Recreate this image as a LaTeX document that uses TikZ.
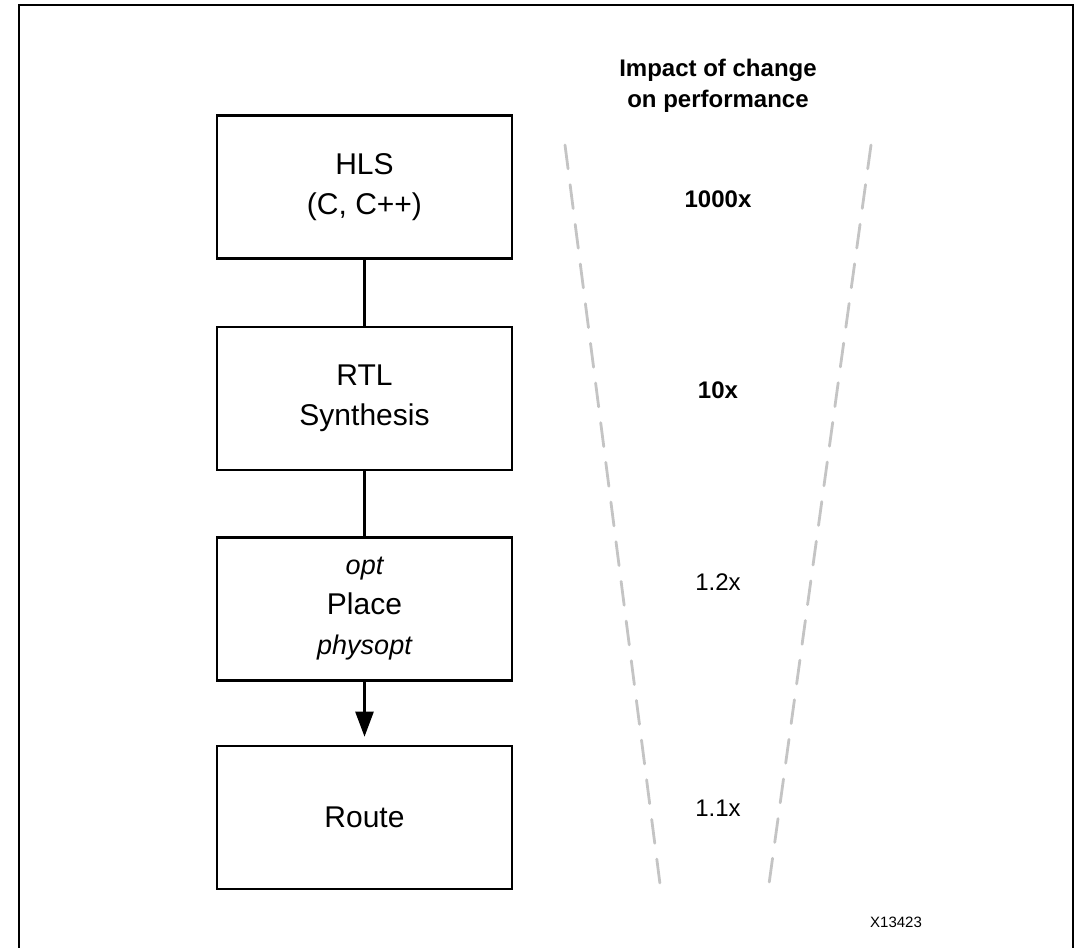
\documentclass[tikz,border=0pt]{standalone}
\usepackage{fontspec}
\setmainfont{Liberation Sans}
\usetikzlibrary{arrows.meta}
\definecolor{dashgray}{RGB}{196,196,196}
\tikzset{
  flowbox/.style={draw=black, line width=2.6pt, minimum width=295pt, minimum height=143pt,
    inner sep=0pt, align=center, font=\fontsize{30}{40}\selectfont},
  link/.style={draw=black, line width=2.4pt},
  funnel/.style={draw=dashgray, line width=2.8pt, line cap=round, dash pattern=on 24pt off 16pt},
  gain/.style={anchor=base, font=\fontsize{24}{30}\selectfont},
  gainbold/.style={gain, font=\fontsize{24}{30}\selectfont\bfseries},
}
\begin{document}
\begin{tikzpicture}[x=1pt, y=-1pt]
  \useasboundingbox (0,0) rectangle (1078,947);
  \clip (0,0) rectangle (1078,947);
  % outer frame, open at the bottom edge of the page
  \draw[black, line width=2.4pt] (19,960) -- (19,5) -- (1073,5) -- (1073,960);

  % design flow
  \node[flowbox] (hls)   at (364.5,187)   {HLS\\(C, C++)};
  \node[flowbox] (rtl)   at (364.5,398.5) {RTL\\Synthesis};
  \node[flowbox] (place) at (364.5,609)   {{\fontsize{27}{40}\selectfont\itshape opt}\\Place\\{\fontsize{27}{40}\selectfont\itshape physopt}};
  \node[flowbox] (route) at (364.5,817.5) {Route};

  \draw[link] (hls.south) -- (rtl.north);
  \draw[link] (rtl.south) -- (place.north);
  \draw[link, -{Triangle[length=25pt, width=18pt]}, shorten >=8pt] (place.south) -- (route.north);

  % funnel of diminishing impact
  \coordinate (ltop) at (565,145);
  \coordinate (lbot) at (660,884);
  \coordinate (rtop) at (871,145);
  \coordinate (rbot) at (769,884);
  \draw[funnel] (ltop) -- (lbot);
  \draw[funnel] (rtop) -- (rbot);

  \node[align=center, font=\fontsize{24}{31}\selectfont\bfseries] (title) at (718,86)
    {Impact of change\\on performance};
  \node[gainbold] (g1) at (718,207) {1000x};
  \node[gainbold] (g2) at (718,398) {10x};
  \node[gain]     (g3) at (718,590) {1.2x};
  \node[gain]     (g4) at (718,816) {1.1x};

  \node[anchor=base, font=\fontsize{15}{18}\selectfont] (figid) at (896,927) {X13423};
\end{tikzpicture}
\end{document}
